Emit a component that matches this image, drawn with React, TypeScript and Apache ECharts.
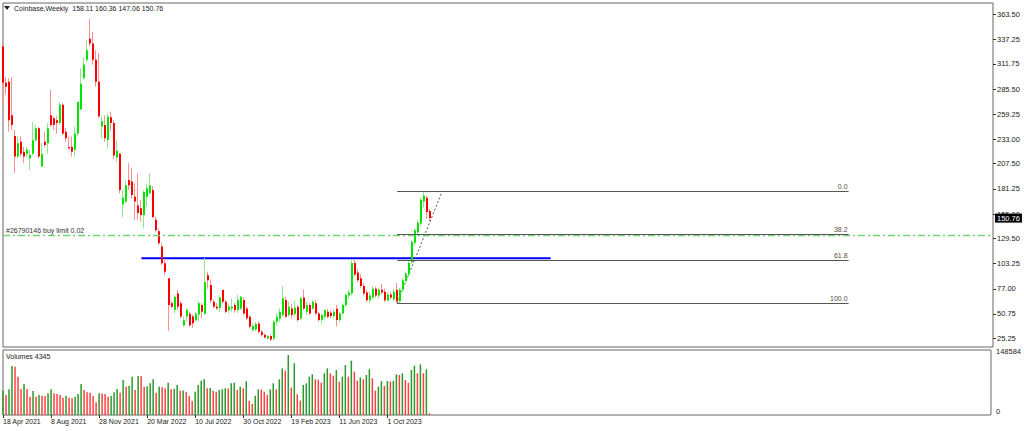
import React, { useEffect, useRef } from "react";
import * as echarts from "echarts";

// ---------- data ----------
const symbolTitle = "Coinbase,Weekly";
const startYear = 2021;
const startMonth = 3; // April (0-based)
const startDay = 18;
const WEEKS_ON_AXIS = 330;
const dateLabelEvery = 16;
const lastDateLabelIndex = 128;
const MONTHS = ["Jan", "Feb", "Mar", "Apr", "May", "Jun", "Jul", "Aug", "Sep", "Oct", "Nov", "Dec"];

const opens = [
  330, 292, 293, 258, 236.5, 215, 230.5, 220, 218, 213,
  218, 232, 244.5, 204.5, 230.5, 229, 258, 255, 253, 250,
  269, 241, 225, 225, 222, 239, 264, 297, 316, 338,
  333, 316, 293, 246, 248, 232, 256, 250, 214, 218,
  165, 168, 190.5, 189, 173, 164, 161, 154, 173, 177,
  180, 149, 137, 121, 103.5, 88, 62, 55, 72, 62,
  39, 48, 51, 48, 44, 50, 60, 51, 91, 81,
  63.5, 58.3, 57, 75.6, 63.5, 54.8, 56.5, 60, 54.8, 56.5,
  65.2, 56.5, 47.8, 33.9, 34.6, 40.8, 32.1, 28.7, 25.2, 27.6,
  25.2, 42.6, 46, 49.5, 65.2, 49.5, 56.5, 50.6, 58.3, 46,
  68, 53, 60, 56.5, 61.8, 51.3, 44.4, 47.8, 53, 52,
  48.5, 56, 44.4, 51.3, 60, 70, 72, 104, 94, 88,
  80, 73, 65, 68, 77, 70, 76, 74, 65, 71,
  66, 76, 64, 76, 85, 92, 105, 125, 136, 145,
  168, 172, 158.11,
];
const highs = [
  334, 298, 297, 298, 243, 236, 236, 225, 225, 222,
  251, 248, 246, 229, 241, 250, 284.5, 257, 257, 272,
  271, 244.5, 236, 236, 246, 272, 307, 319, 337, 359,
  345, 326, 323, 258, 258, 260, 262, 253, 232, 219,
  180, 190.5, 208, 203, 187, 197.5, 170, 180, 187, 197.5,
  184, 152, 140, 124.4, 107, 88, 64, 70.5, 75.7, 64,
  48, 56.6, 53, 50, 53, 64, 62, 109, 95, 86,
  65.3, 62, 70, 76.3, 65.2, 61.8, 67, 62, 70.5, 69.4,
  68, 58.3, 49.6, 40.8, 42.6, 42.7, 33.9, 30.4, 28.7, 29,
  44.4, 51.3, 56.6, 79.8, 68.7, 63.5, 61, 65, 60, 68.7,
  76.3, 63.5, 62, 65.2, 65.2, 53, 51.3, 54.8, 56, 54,
  56, 60, 53, 62, 72, 76, 107, 107, 97, 92,
  83, 76, 74, 80, 79, 78, 82, 77, 74, 74,
  77, 83, 78, 88, 95, 106, 128, 140, 149, 172,
  179, 174, 160.36,
];
const lows = [
  270, 280, 241, 243, 197.5, 213, 215, 208, 215, 201,
  216.5, 230.5, 213, 204.5, 225, 218, 246, 243, 239, 248,
  237.5, 230.5, 222, 215, 215, 236, 264, 295, 314, 330,
  311, 288, 255, 234, 230.5, 223.6, 242, 212, 209, 176.6,
  152, 166, 180, 171, 149, 149, 147, 140, 163, 175,
  150.5, 136.6, 122.7, 101.8, 91.3, 33, 56.6, 51.3, 54.8, 46,
  37, 42.7, 37, 36, 42.7, 43, 46, 49.6, 77, 62,
  56.6, 54.8, 53, 61.7, 51.3, 51.3, 53, 52, 52, 54.8,
  49.6, 44.4, 35.6, 32.2, 32.9, 30.4, 26.9, 25.2, 24, 22.4,
  23.5, 38, 42.7, 47.8, 46, 47.8, 46, 48, 42.6, 44.4,
  54.8, 49.5, 49.5, 54.8, 49.6, 42.6, 40, 45, 46, 46,
  46, 37.4, 42, 50, 58, 66, 70, 90, 84, 78,
  70, 63, 62, 66, 68, 67, 71, 63, 63, 66,
  64, 61.8, 62, 74, 82, 90, 103, 122, 132, 142,
  162, 150, 147.06,
];
const closes = [
  292, 288, 253, 248, 215, 229, 218, 215, 222, 216.5,
  232, 244.5, 215, 218, 227, 244.5, 248, 248, 250, 269,
  239, 234, 223.6, 220, 239, 272, 291, 311, 326, 333,
  316, 293, 257, 252, 234, 256.6, 250, 216, 221, 180,
  172, 185, 185, 175, 168, 156, 154, 178, 182, 185,
  152, 138, 124.4, 103.5, 94.8, 60, 58.3, 68.7, 58.3, 48,
  44, 55, 39, 41, 51, 62, 53, 84, 86, 65,
  58.3, 56.6, 68, 63.5, 53, 58.3, 58.3, 54.8, 65.3, 68.7,
  51.3, 46.1, 37.4, 38.1, 40.1, 32.1, 28.7, 26.2, 27.6, 24.1,
  42.6, 47.8, 53, 67, 47.8, 58.3, 49.5, 57.5, 44.4, 67,
  56.5, 60, 51.3, 63.5, 51.3, 44.4, 49.5, 54.8, 47.8, 48.5,
  53, 44.4, 51.3, 60, 70.4, 73, 104, 92, 86, 80,
  72, 65, 70, 77, 70, 76, 73, 65, 71, 68,
  74, 64, 76, 86, 93, 104, 126, 138, 146, 170,
  174, 157, 150.76,
];
const volumes = [
  60262, 49530, 63564, 121349, 119698, 94933, 64389, 76772, 64389, 45403,
  59436, 45403, 49530, 47879, 47054, 53658, 63564, 53658, 52007, 49530,
  42926, 47879, 42926, 41275, 45403, 52007, 76772, 61913, 56134, 55309,
  47054, 31369, 53658, 53120, 52007, 45403, 47054, 56134, 64389, 55309,
  86678, 70168, 72644, 94933, 61913, 96584, 95800, 70168, 70900, 78423,
  88329, 55309, 70168, 68517, 66040, 80074, 63564, 65215, 74295, 60262,
  60900, 57785, 47054, 34671, 57785, 74295, 85027, 88329, 66040, 66700,
  60262, 57785, 61913, 63564, 66040, 65400, 78423, 80074, 61913, 70168,
  66040, 83376, 35497, 27242, 47879, 63564, 62900, 57785, 49530, 63564,
  78423, 63564, 88329, 115570, 109792, 148584, 67691, 127953, 51181, 35497,
  74295, 78423, 94933, 100711, 88329, 87600, 80074, 103188, 115570, 103188,
  97409, 111443, 82550, 94933, 123825, 94933, 134557, 107315, 85027, 93282,
  88329, 99060, 113094, 90805, 60000, 70168, 84201, 71819, 84201, 82550,
  84201, 100711, 99060, 103188, 86678, 80074, 111443, 122174, 103188, 125476,
  103188, 113094, 4345,
];

const priceTicks = [25.25, 50.75, 77.0, 103.25, 129.5, 155.0, 181.25, 207.5, 233.0, 259.25, 285.5, 311.75, 337.25, 363.5];
const volumeTicks = [0, 148584];
const priceMin = 16.2;
const priceMax = 375.3;
const volumeMax = 160966;

const fibStartIndex = 131;
const fibEndIndex = 281;
const fibHighPrice = 179;
const fibLowPrice = 61.8;
const fibLevels = [0, 38.2, 61.8, 100];
const trendEndIndex = 146;

const resistanceFrom = 46;
const resistanceTo = 182;
const resistancePrice = 108.8;

const buyLimitPrice = 133.2;
const buyLimitText = "#26790146 buy limit 0.02";

// ---------- helpers ----------
const weeks = Array.from({ length: WEEKS_ON_AXIS }, (_, i) => {
  const d = new Date(Date.UTC(startYear, startMonth, startDay + 7 * i));
  return `${d.getUTCDate()} ${MONTHS[d.getUTCMonth()]} ${d.getUTCFullYear()}`;
});

const FONT = "Liberation Sans, Arial, sans-serif";
const TEXT = "#222";
const FRAME = "#666";
const UP_BODY = "#00e600";
const UP_WICK = "#8ee88e";
const DN_BODY = "#ff0000";
const DN_WICK = "#ff8f8f";
const VOL_UP = "#2a9a2a";
const VOL_DN = "#ff4040";
const BUY_LINE = "#6fd46f";

const showDateLabel = (index: number) => index % dateLabelEvery === 0 && index <= lastDateLabelIndex;

export default function App() {
  const ref = useRef<HTMLDivElement>(null);

  useEffect(() => {
    if (!ref.current) return;
    const chart = echarts.init(ref.current, null, { renderer: "svg" });

    const lastIdx = closes.length - 1;
    const candleData = opens.map((o, i) => [i, o, highs[i], lows[i], closes[i]]);
    const volumeData = volumes.map((v, i) => ({
      value: v,
      itemStyle: { color: i === 0 || v > volumes[i - 1] ? VOL_UP : VOL_DN },
    }));

    const fibMarks = fibLevels.map((lvl) => {
      const p = fibHighPrice - (lvl / 100) * (fibHighPrice - fibLowPrice);
      return [
        { coord: [fibStartIndex, p] },
        {
          coord: [fibEndIndex, p],
          label: { formatter: lvl.toFixed(1) },
        },
      ];
    });

    const option: any = {
      animation: false,
      backgroundColor: "#ffffff",
      textStyle: { fontFamily: FONT },
      grid: [
        { left: 3, right: 31, top: 3, height: 344, show: true, borderColor: FRAME, borderWidth: 1, backgroundColor: "#fff" },
        { left: 3, right: 31, top: 350, height: 65, show: true, borderColor: FRAME, borderWidth: 1, backgroundColor: "#fff" },
      ],
      xAxis: [
        {
          gridIndex: 0,
          type: "category",
          data: weeks,
          boundaryGap: false,
          axisLine: { show: false },
          axisTick: { show: false },
          axisLabel: { show: false },
          splitLine: { show: false },
        },
        {
          gridIndex: 1,
          type: "category",
          data: weeks,
          boundaryGap: false,
          axisLine: { show: false },
          axisTick: { show: true, interval: (i: number) => showDateLabel(i), length: 3, lineStyle: { color: "#333" } },
          axisLabel: {
            interval: 0,
            formatter: (value: string, index: number) => (showDateLabel(index) ? value : ""),
            hideOverlap: false,
            align: "left",
            margin: 3,
            fontSize: 7,
            fontFamily: FONT,
            color: TEXT,
          },
          splitLine: { show: false },
        },
      ],
      yAxis: [
        {
          gridIndex: 0,
          type: "value",
          position: "right",
          min: priceMin,
          max: priceMax,
          axisLine: { show: false },
          axisTick: { show: true, length: 3, customValues: priceTicks, lineStyle: { color: "#333" } },
          axisLabel: {
            customValues: priceTicks,
            formatter: (v: number) => v.toFixed(2),
            fontSize: 7.5,
            fontFamily: FONT,
            color: TEXT,
            margin: 4,
          },
          splitLine: { show: false },
        },
        {
          gridIndex: 1,
          type: "value",
          position: "right",
          min: 0,
          max: volumeMax,
          axisLine: { show: false },
          axisTick: { show: false, customValues: volumeTicks },
          axisLabel: {
            customValues: volumeTicks,
            formatter: (v: number) => String(v),
            fontSize: 7.5,
            fontFamily: FONT,
            color: TEXT,
            margin: 5,
            verticalAlign: "bottom",
          },
          splitLine: { show: false },
        },
      ],
      series: [
        {
          type: "line",
          xAxisIndex: 0,
          yAxisIndex: 0,
          silent: true,
          symbol: "none",
          data: [],
          z: 2,
          markLine: {
            silent: true,
            symbol: ["none", "none"],
            lineStyle: { color: BUY_LINE, width: 1.3, type: [7, 3, 2, 3] },
            data: [
              {
                yAxis: buyLimitPrice,
                lineStyle: { color: BUY_LINE, width: 1.3, type: [7, 3, 2, 3] },
                label: {
                  show: true,
                  position: "insideStartTop",
                  distance: [3, 1],
                  formatter: buyLimitText,
                  fontSize: 7,
                  fontFamily: FONT,
                  color: "#333",
                },
              },
            ],
          },
        },
        {
          type: "line",
          xAxisIndex: 0,
          yAxisIndex: 0,
          silent: true,
          symbol: "none",
          data: [
            [resistanceFrom, resistancePrice],
            [resistanceTo, resistancePrice],
          ],
          lineStyle: { color: "#0000ff", width: 2 },
          z: 3,
        },
        {
          type: "line",
          xAxisIndex: 0,
          yAxisIndex: 0,
          silent: true,
          symbol: "none",
          data: [
            [fibStartIndex, fibLowPrice],
            [trendEndIndex, fibHighPrice],
          ],
          lineStyle: { color: "#555", width: 1, type: [2, 2] },
          z: 3,
          markLine: {
            silent: true,
            symbol: ["none", "none"],
            lineStyle: { color: "#555", width: 1, type: "solid" },
            label: {
              show: true,
              position: "insideEndTop",
              distance: 1,
              fontSize: 7,
              fontFamily: FONT,
              color: "#5a4a3a",
            },
            data: fibMarks,
          },
        },
        {
          type: "custom",
          xAxisIndex: 0,
          yAxisIndex: 0,
          silent: true,
          data: candleData,
          encode: { x: 0, y: [1, 2, 3, 4] },
          z: 4,
          renderItem: (params: any, api: any) => {
            const x = api.value(0);
            const o = api.value(1);
            const h = api.value(2);
            const l = api.value(3);
            const c = api.value(4);
            const pH = api.coord([x, h]);
            const pL = api.coord([x, l]);
            const pO = api.coord([x, o]);
            const pC = api.coord([x, c]);
            const up = c >= o;
            const base = Math.round(pH[0]) - 1;
            const top = Math.min(pO[1], pC[1]);
            const hgt = Math.max(1, Math.abs(pO[1] - pC[1]));
            return {
              type: "group",
              children: [
                {
                  type: "line",
                  shape: { x1: base + 0.5, y1: pH[1], x2: base + 0.5, y2: pL[1] },
                  style: { stroke: up ? UP_WICK : DN_WICK, lineWidth: 1 },
                },
                {
                  type: "rect",
                  shape: { x: base, y: top, width: 2, height: hgt },
                  style: { fill: up ? UP_BODY : DN_BODY },
                },
              ],
            };
          },
        },
        {
          type: "line",
          xAxisIndex: 0,
          yAxisIndex: 0,
          silent: true,
          symbol: "none",
          data: [],
          z: 10,
          markLine: {
            silent: true,
            symbol: ["none", "none"],
            lineStyle: { color: "transparent", width: 0 },
            data: [
              {
                yAxis: closes[lastIdx],
                lineStyle: { color: "transparent", width: 0 },
                label: {
                  show: true,
                  position: "end",
                  distance: 2,
                  formatter: closes[lastIdx].toFixed(2),
                  backgroundColor: "#000",
                  color: "#fff",
                  padding: [1, 2, 0, 2],
                  fontSize: 7.5,
                  fontFamily: FONT,
                },
              },
            ],
          },
        },
        {
          type: "bar",
          xAxisIndex: 1,
          yAxisIndex: 1,
          silent: true,
          barWidth: 1.5,
          data: volumeData,
        },
      ],
      graphic: [
        {
          type: "polygon",
          shape: { points: [[4, 6], [10, 6], [7, 10]] },
          style: { fill: "#222" },
          silent: true,
        },
        {
          type: "text",
          x: 14,
          y: 8,
          style: {
            text: `${symbolTitle}  ${opens[lastIdx].toFixed(2)} ${highs[lastIdx].toFixed(2)} ${lows[lastIdx].toFixed(2)} ${closes[lastIdx].toFixed(2)}`,
            fontSize: 7,
            fontFamily: FONT,
            fill: TEXT,
            verticalAlign: "middle",
          },
          silent: true,
        },
        {
          type: "text",
          x: 6,
          y: 356,
          style: {
            text: `Volumes ${volumes[lastIdx]}`,
            fontSize: 7,
            fontFamily: FONT,
            fill: TEXT,
            verticalAlign: "middle",
          },
          silent: true,
        },
      ],
    };

    chart.setOption(option);
    return () => chart.dispose();
  }, []);

  return (
    <div
      ref={ref}
      style={{ position: "fixed", left: 0, top: 0, width: 1024, height: 431, background: "#fff" }}
    />
  );
}
